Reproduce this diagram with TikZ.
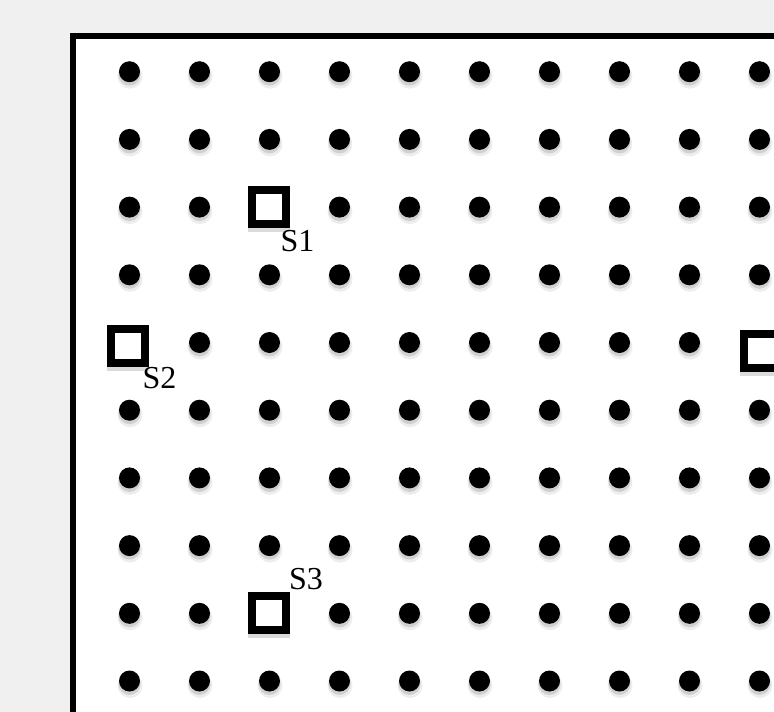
\documentclass[tikz,border=0pt]{standalone}
\usepackage{fontspec}
\setmainfont{Liberation Serif}
\definecolor{bg}{RGB}{240,240,240}
\begin{document}
\begin{tikzpicture}[x=1pt,y=-1pt,
  dot/.style={circle,fill=black,minimum size=21pt,inner sep=0pt},
  sensor/.style={draw=black,line width=8pt,fill=white,minimum size=34pt,inner sep=0pt},
  sshadow/.style={fill=black!14,minimum size=42pt,inner sep=0pt},
  lbl/.style={font=\fontsize{32}{32}\selectfont,inner sep=0pt}]
\useasboundingbox (0,0) rectangle (774,712);
\fill[bg] (0,0) rectangle (774,712);
\clip (0,0) rectangle (774,712);
\draw[line width=6pt,fill=white] (73,36) rectangle (820,760);
\foreach \i in {0,...,9}{
  \foreach \j in {0,...,9}{
    \pgfmathtruncatemacro\skipit{((\i==2)&&(\j==2))||((\i==0)&&(\j==4))||((\i==9)&&(\j==4))||((\i==2)&&(\j==8))}
    \ifnum\skipit=0
      \pgfmathsetmacro\px{129.5+70*\i}
      \pgfmathsetmacro\py{71.7+67.7*\j}
      \fill[black,opacity=0.07] (\px+0.5,\py+4.5) circle (12.5);
      \fill[black,opacity=0.12] (\px,\py+3) circle (11);
      \node[dot] (d\i\j) at (\px,\py) {};
    \fi
  }
}
% sensors
\node[sshadow] at (269,211) {};
\node[sensor] (s1) at (269,207) {};
\node[sshadow] at (128,350) {};
\node[sensor] (s2) at (128,346) {};
\node[sshadow] at (761,354.5) {};
\node[sensor] (s4) at (761,350.5) {};
\node[sshadow] at (268.7,616.5) {};
\node[sensor] (s3) at (268.7,612.5) {};
% labels
\node[lbl] (l1) at (297.5,241) {S1};
\node[lbl] (l2) at (159.5,378) {S2};
\node[lbl] (l3) at (306,579) {S3};
\end{tikzpicture}
\end{document}
